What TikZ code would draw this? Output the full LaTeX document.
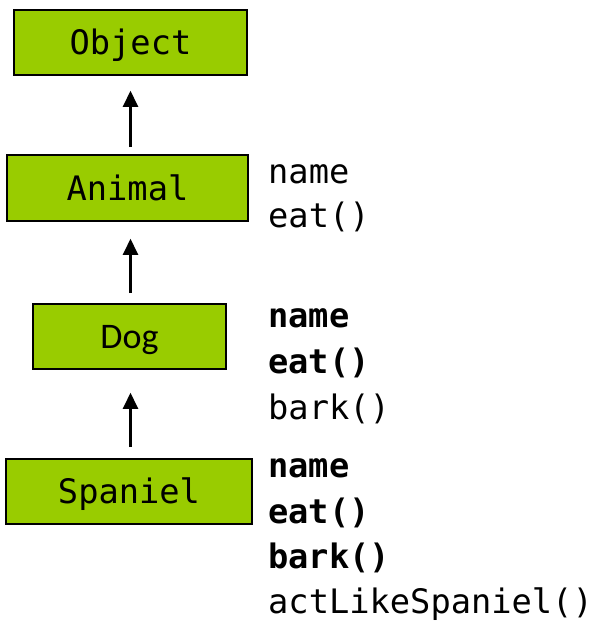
\documentclass[tikz,border=0pt]{standalone}
\usepackage{fontspec}
\usetikzlibrary{arrows.meta}
\newfontfamily\monofont{DejaVu Sans Mono}
\newfontfamily\dogfont{Carlito}
\definecolor{boxgreen}{HTML}{99CC00}
\begin{document}
\begin{tikzpicture}[x=1pt,y=-1pt,
  classbox/.style={draw=black, line width=1.6pt, fill=boxgreen, inner sep=0pt,
    text height=24.5pt, text depth=0pt, font=\monofont\fontsize{33.7}{40}\selectfont},
  attr/.style={anchor=base west, inner sep=0pt, font=\monofont\fontsize{33.7}{40}\selectfont},
  battr/.style={attr, font=\monofont\bfseries\fontsize{33.7}{40}\selectfont},
  inherit/.style={line width=2.5pt, -{Triangle[width=15pt,length=16pt]}}]
\useasboundingbox (0,0) rectangle (598,621);
\node[classbox, minimum width=233pt, minimum height=65pt] (object) at (130.5,42.5) {Object};
\node[classbox, minimum width=241pt, minimum height=66pt] (animal) at (127.5,188) {Animal};
\node[classbox, minimum width=193pt, minimum height=65pt, font=\dogfont\fontsize{36}{40}\selectfont] (dog) at (129.5,336.5) {Dog};
\node[classbox, minimum width=246pt, minimum height=65pt] (spaniel) at (129,491.5) {Spaniel};

\draw[inherit, shorten <=7pt, shorten >=15pt] (animal.north -| object.south) -- (object.south);
\draw[inherit, shorten <=10pt, shorten >=17pt] (dog.north -| object.south) -- (animal.south -| object.south);
\draw[inherit, shorten <=11pt, shorten >=23pt] (spaniel.north -| object.south) -- (dog.south -| object.south);

\node[attr] (a1) at (268,183) {name};
\node[attr] (a2) at (268,227) {eat()};
\node[battr] (d1) at (268,327) {name};
\node[battr] (d2) at (268,373) {eat()};
\node[attr] (d3) at (268,419) {bark()};
\node[battr] (s1) at (268,477) {name};
\node[battr] (s2) at (268,523) {eat()};
\node[battr] (s3) at (268,568) {bark()};
\node[attr] (s4) at (268,613) {actLikeSpaniel()};
\end{tikzpicture}
\end{document}
